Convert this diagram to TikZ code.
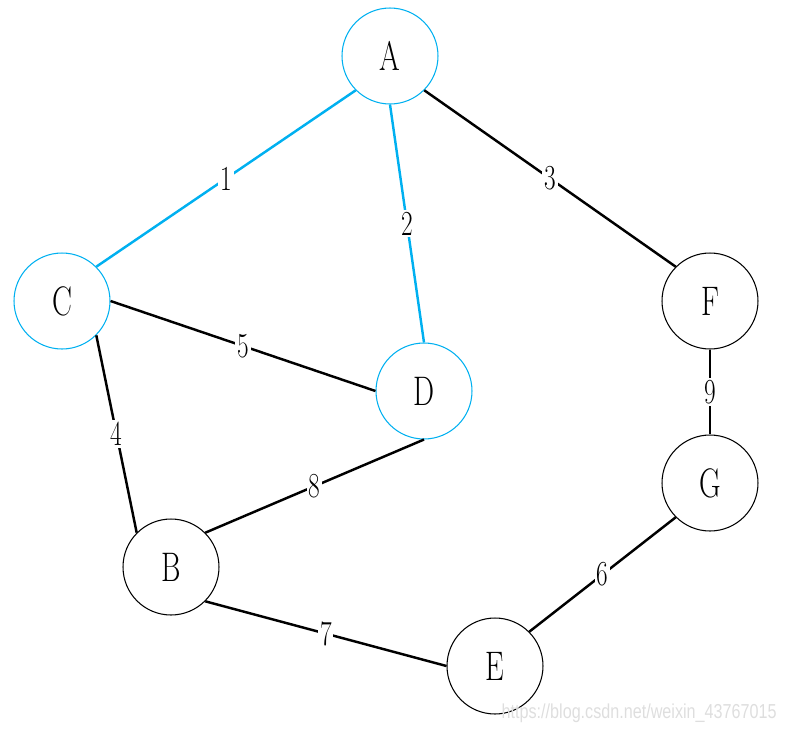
\documentclass[tikz,border=0pt]{standalone}
\usepackage{fontspec}
\setmainfont{Latin Modern Roman}[FakeStretch=0.72]
\newfontfamily\markfont{Liberation Sans}[FakeStretch=0.8]
\usetikzlibrary{positioning,calc}
\definecolor{TreeBlue}{RGB}{0,176,240}
\definecolor{MarkGray}{RGB}{222,222,222}

\begin{document}
\begin{tikzpicture}[x=0.02cm,y=-0.02cm,
    vertex/.style={circle, draw=black, line width=0.6pt, minimum size=1.92cm, inner sep=0pt, font=\fontsize{23.5}{24}\selectfont},
    treevertex/.style={vertex, draw=TreeBlue},
    edge/.style={line width=1.4pt, black},
    treeedge/.style={edge, TreeBlue},
    weight/.style={fill=white, inner sep=1pt, font=\fontsize{20}{20}\selectfont}]
  \useasboundingbox (0,0) rectangle (785,731);
  % vertices
  \node[treevertex] (A) at (390,56) {A};
  \node[treevertex] (C) at (62,301) {C};
  \node[treevertex] (D) at (424,391) {D};
  \node[vertex] (F) at (710,301) {F};
  \node[vertex] (G) at (710,483) {G};
  \node[vertex] (B) at (171,567) {B};
  \node[vertex] (E) at (495,666) {E};
  % edges
  \draw[treeedge] (A.south west) -- node[weight, text=black] {1} (C.north east);
  \draw[treeedge] (A.south) -- node[weight, text=black] {2} (D.north);
  \draw[edge] (A.south east) -- node[weight] {3} (F.north west);
  \draw[edge] (C.east) -- node[weight] {5} (D.west);
  \draw[edge] (C.south east) -- node[weight] {4} (B.north west);
  \draw[edge] (D.south) -- node[weight] {8} (B.north east);
  \draw[edge] (F.south) -- node[weight] {9} (G.north);
  \draw[edge] (B.south east) -- node[weight] {7} (E.west);
  \draw[edge] (G.south west) -- node[weight] {6} (E.north east);
  \node[anchor=east, inner sep=0pt, text=MarkGray, font=\markfont\fontsize{11.5}{12}\selectfont] (mark) at (777,713) {https://blog.csdn.net/weixin\_43767015};
\end{tikzpicture}
\end{document}
